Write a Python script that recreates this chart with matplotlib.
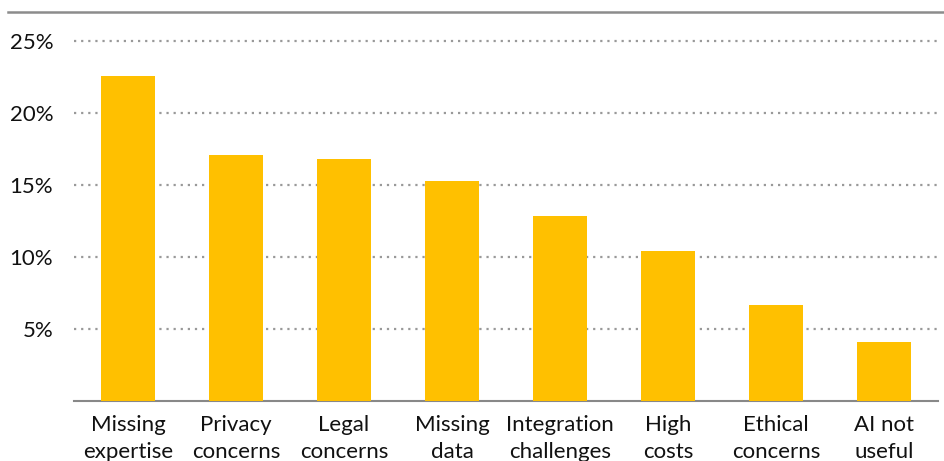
import numpy as np
import matplotlib
matplotlib.use('Agg')
import matplotlib.pyplot as plt
from matplotlib.lines import Line2D

categories = ["Missing\nexpertise", "Privacy\nconcerns", "Legal\nconcerns", "Missing\ndata",
              "Integration\nchallenges", "High\ncosts", "Ethical\nconcerns", "AI not\nuseful"]
values = [22.6, 17.1, 16.8, 15.3, 12.85, 10.45, 6.65, 4.1]
yticks = [5, 10, 15, 20, 25]

plt.rcParams['font.family'] = ['Lato', 'DejaVu Sans']

fig = plt.figure(figsize=(9.44, 4.61), dpi=100)
# axes from x=74..938, y=401 (0%) .. 12 (top)
W, H = 944, 461
x0, x1 = 74, 938
ybot, ytop = 401, 12
ax = fig.add_axes([x0 / W, 1 - ybot / H, (x1 - x0) / W, (ybot - ytop) / H])

x = np.arange(len(categories))
ax.bar(x, values, width=0.5, color='#FFC000', zorder=3)
ax.set_xlim(-0.5, len(categories) - 0.5)
ax.set_ylim(0, (ybot - ytop) / 14.4)

for t in yticks:
    ax.axhline(t, color='#999999', lw=1.6, ls=(0, (1, 2.2)), zorder=1)
ax.set_yticks(yticks)
ax.set_yticklabels([f"{t}%" for t in yticks], fontsize=16, color='#111111')
ax.set_xticks(x)
ax.set_xticklabels(categories, fontsize=16, color='#111111', linespacing=1.45)
ax.tick_params(axis='both', length=0)
ax.tick_params(axis='y', pad=15)
ax.tick_params(axis='x', pad=10)

for s in ['top', 'right', 'left']:
    ax.spines[s].set_visible(False)
ax.spines['bottom'].set_color('#888888')
ax.spines['bottom'].set_linewidth(1.5)

# top border line
fig.add_artist(Line2D([8 / W, 1], [1 - 12 / H, 1 - 12 / H], color='#8c8c8c', lw=1.8))

fig.savefig('out.png', dpi=100)
